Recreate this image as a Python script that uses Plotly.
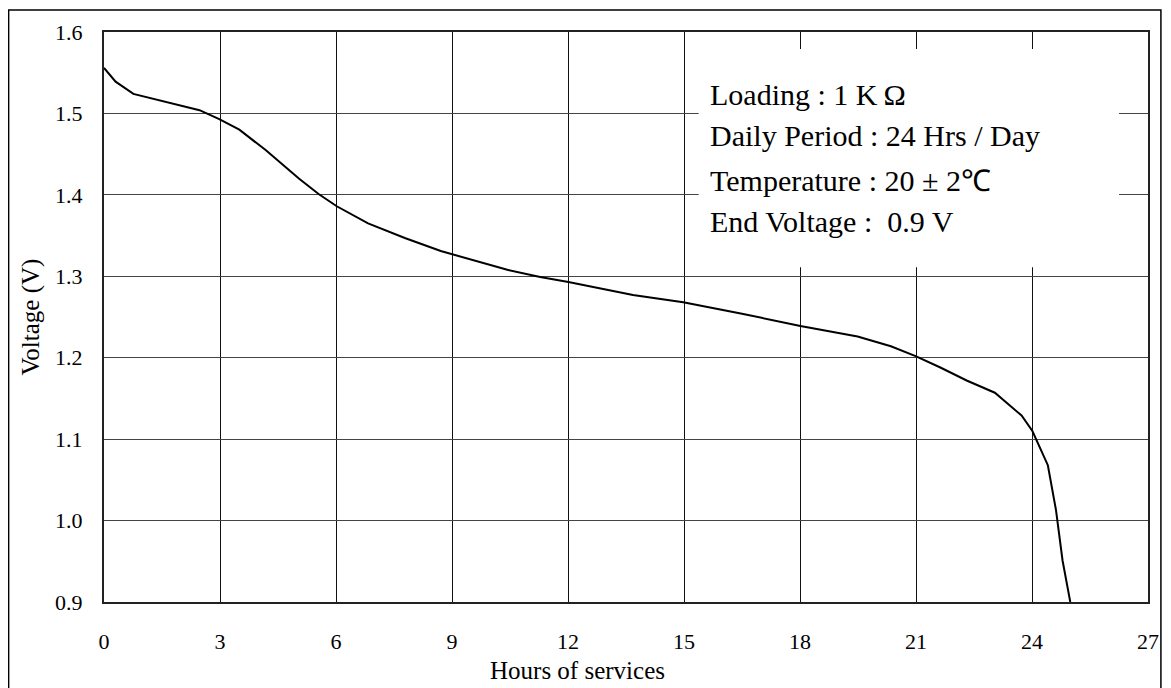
import plotly.graph_objects as go

# Data
hours = [0, 0.3, 0.76, 1.62, 2.47, 2.98, 3.5, 4.18, 5.04, 5.55, 6.02, 6.83, 7.78,
         8.71, 10.43, 11.28, 12.01, 13.68, 14.98, 16.5, 18.01, 19.49, 20.35, 20.99,
         21.63, 22.31, 23.04, 23.73, 24.01, 24.41, 24.62, 24.79, 24.99]
volts = [1.556, 1.539, 1.524, 1.514, 1.504, 1.493, 1.480, 1.455, 1.420, 1.401, 1.386,
         1.365, 1.347, 1.331, 1.308, 1.299, 1.293, 1.277, 1.268, 1.254, 1.239, 1.226,
         1.214, 1.202, 1.188, 1.172, 1.157, 1.129, 1.110, 1.068, 1.013, 0.951, 0.900]

x_ticks = [0, 3, 6, 9, 12, 15, 18, 21, 24, 27]
y_ticks = [0.9, 1.0, 1.1, 1.2, 1.3, 1.4, 1.5, 1.6]

info_lines = ["Loading : 1 K\u2009\u03a9",
              "Daily Period : 24 Hrs / Day",
              "Temperature : 20 \u00b1 2\u2103",
              "End Voltage :  0.9 V"]
info_y = [1.523, 1.4725, 1.418, 1.3675]

FONT = "Liberation Serif, Times New Roman, serif"

# page offset (browser body margin)
OFF = 8

fig = go.Figure()
fig.add_trace(go.Scatter(x=hours, y=volts, mode="lines",
                         line=dict(color="black", width=2), showlegend=False,
                         hoverinfo="skip"))

W, H = 1171 - OFF, 688 - OFF
# plot area in page pixels: left 104, right 1155, top 30, bottom 602
L = 104 - OFF
T = 30 - OFF
R = W - (1155 - OFF)
B = H - (602 - OFF)

fig.update_layout(
    width=W, height=H,
    margin=dict(l=L, r=R, t=T, b=B, pad=0),
    paper_bgcolor="white", plot_bgcolor="white",
    font=dict(family=FONT, color="black", size=22),
    xaxis=dict(range=[0, 27], tickvals=x_ticks, ticktext=[str(v) for v in x_ticks],
               showgrid=True, gridcolor="#111", gridwidth=1,
               showline=True, linecolor="#222", linewidth=2, mirror=True,
               zeroline=False, ticks="", ticklabelstandoff=19,
               tickfont=dict(size=22, family=FONT)),
    yaxis=dict(range=[0.9, 1.6], tickvals=y_ticks, ticktext=[f"{v:.1f}" for v in y_ticks],
               showgrid=True, gridcolor="#444", gridwidth=1,
               showline=True, linecolor="#222", linewidth=2, mirror=True,
               zeroline=False, ticks="", ticklabelstandoff=15,
               tickfont=dict(size=22, family=FONT)),
)

# white info box
fig.add_shape(type="rect", xref="x", yref="y", x0=15.38, x1=26.25, y0=1.311, y1=1.579,
              fillcolor="white", line=dict(width=0), layer="above")

for txt, yy in zip(info_lines, info_y):
    fig.add_annotation(x=15.61, y=yy, xref="x", yref="y", text=txt, showarrow=False,
                       xanchor="left", yanchor="middle",
                       font=dict(size=30, family=FONT, color="black"))

# axis titles (page pixel positions converted to paper coords)
pw = W - L - R
ph = H - T - B


def px_to_paper(px, py):
    return ((px - OFF) - L) / pw, (H - B - (py - OFF)) / ph


tx, ty = px_to_paper(581, 671)
fig.add_annotation(x=tx, y=ty, xref="paper", yref="paper",
                   text="Hours of services", showarrow=False,
                   xanchor="center", yanchor="middle",
                   font=dict(size=25, family=FONT, color="black"))
vx, vy = px_to_paper(31, 316)
fig.add_annotation(x=vx, y=vy, xref="paper", yref="paper",
                   text="Voltage (V)", showarrow=False, textangle=-90,
                   xanchor="center", yanchor="middle",
                   font=dict(size=25, family=FONT, color="black"))

# outer frame of the image
fx0, fy0 = px_to_paper(8, 700)
fx1, fy1 = px_to_paper(1168, 8)
fig.add_shape(type="rect", xref="paper", yref="paper",
              x0=fx0, x1=fx1, y0=fy0, y1=fy1,
              line=dict(color="black", width=1.5), fillcolor="rgba(0,0,0,0)", layer="above")

fig.write_html("out.html")
